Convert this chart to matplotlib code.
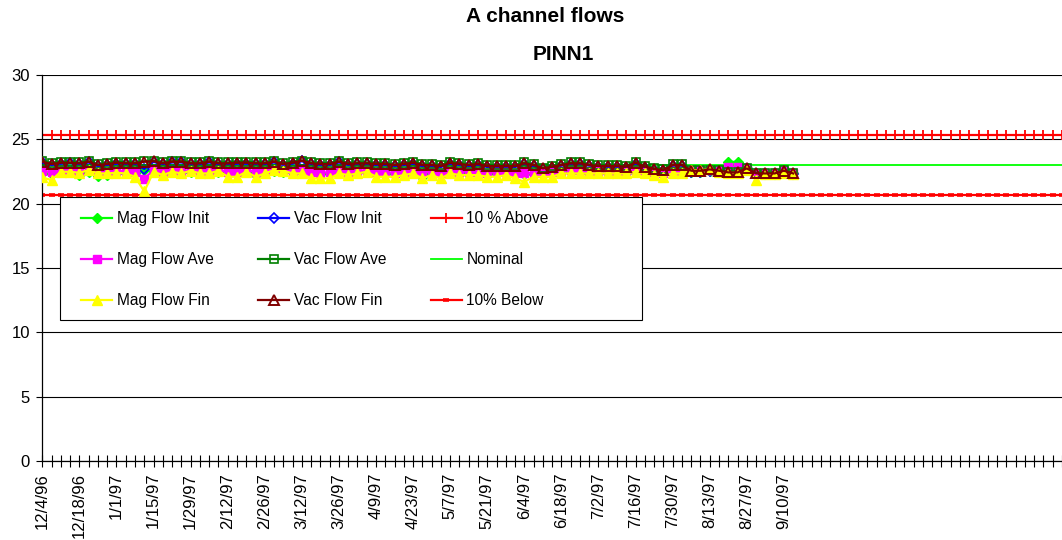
import matplotlib
matplotlib.use("Agg")
import matplotlib.pyplot as plt
from matplotlib.patches import Rectangle
import numpy as np

plt.rcParams['font.family'] = ['Liberation Sans', 'DejaVu Sans']

# Category axis: one category per reading, a date label on every 4th one
label_dates = ["12/4/96", "12/18/96", "1/1/97", "1/15/97", "1/29/97", "2/12/97",
               "2/26/97", "3/12/97", "3/26/97", "4/9/97", "4/23/97", "5/7/97",
               "5/21/97", "6/4/97", "6/18/97", "7/2/97", "7/16/97", "7/30/97",
               "8/13/97", "8/27/97", "9/10/97"]
label_step = 4
n_categories = 111

mag_flow_init = [22.40, 22.30, 22.50, 22.45, 22.20, 22.50, 22.15, 22.20, 22.35, 22.40,
                 22.35, 22.60, 22.50, 22.40, 22.50, 22.45, 22.50, 22.40, 22.45, 22.50,
                 22.40, 22.35, 22.50, 22.20, 22.45, 22.55, 22.50, 22.45, 22.50, 22.35,
                 22.30, 22.35, 22.50, 22.40, 22.45, 22.50, 22.35, 22.35, 22.30, 22.40,
                 22.45, 22.10, 22.40, 22.30, 22.45, 22.40, 22.40, 22.35, 22.30, 22.35,
                 22.35, 22.30, 22.30, 22.30, 22.30, 22.35, 22.45, 22.50, 22.50, 22.45,
                 22.45, 22.40, 22.40, 22.40, 22.55, 22.40, 22.35, 22.30, 22.45, 22.40,
                 22.50, 22.50, 22.55, 22.50, 23.25, 23.25, 22.75, 22.40, 22.35, 22.35,
                 22.50, 22.35]

mag_flow_ave = [22.55, 22.45, 22.60, 22.55, 22.50, 22.60, 22.45, 22.50, 22.55, 22.50,
                22.45, 21.95, 22.60, 22.50, 22.60, 22.55, 22.60, 22.50, 22.55, 22.60,
                22.50, 22.45, 22.60, 22.50, 22.55, 22.65, 22.60, 22.55, 22.60, 22.45,
                22.40, 22.45, 22.60, 22.50, 22.55, 22.60, 22.45, 22.45, 22.40, 22.50,
                22.55, 22.40, 22.50, 22.40, 22.55, 22.50, 22.50, 22.45, 22.40, 22.45,
                22.45, 22.40, 22.35, 22.40, 22.40, 22.45, 22.55, 22.60, 22.60, 22.55,
                22.55, 22.50, 22.50, 22.50, 22.65, 22.50, 22.45, 22.40, 22.55, 22.50,
                22.60, 22.60, 22.65, 22.55, 22.85, 22.85, 22.70, 22.40, 22.40, 22.40,
                22.55, 22.40]

mag_flow_fin = [22.04, 21.83, 22.48, 22.48, 22.40, 22.61, 22.35, 22.35, 22.40, 22.35,
                22.09, 20.95, 22.48, 22.22, 22.48, 22.35, 22.56, 22.35, 22.35, 22.56,
                22.09, 22.09, 22.48, 22.09, 22.35, 22.61, 22.56, 22.35, 22.35, 21.96,
                21.96, 21.96, 22.35, 22.22, 22.35, 22.48, 22.09, 22.09, 22.09, 22.22,
                22.35, 21.96, 22.22, 21.96, 22.35, 22.22, 22.22, 22.22, 22.09, 22.09,
                22.22, 21.96, 21.70, 22.09, 22.09, 22.09, 22.35, 22.35, 22.35, 22.35,
                22.35, 22.35, 22.35, 22.35, 22.48, 22.35, 22.22, 22.09, 22.35, 22.35,
                22.61, 22.61, 22.66, 22.43, 22.40, 22.40, 22.61, 21.83, 22.30, 22.30,
                22.40, 22.30]

vac_flow_init = [23.20, 23.00, 23.10, 23.15, 23.05, 23.20, 22.90, 23.00, 23.10, 23.05,
                 23.05, 22.70, 23.25, 23.05, 23.20, 23.20, 23.05, 23.05, 23.20, 23.05,
                 23.05, 23.10, 23.10, 23.05, 23.05, 23.20, 23.00, 23.10, 23.30, 23.05,
                 23.00, 23.00, 23.20, 23.00, 23.05, 23.05, 23.00, 23.00, 22.90, 23.00,
                 23.10, 22.90, 22.90, 22.85, 23.10, 23.00, 22.90, 23.00, 22.85, 22.85,
                 22.85, 22.85, 23.05, 22.90, 22.70, 22.80, 22.95, 23.05, 23.05, 22.95,
                 22.85, 22.85, 22.85, 22.80, 23.10, 22.80, 22.65, 22.55, 22.95, 22.95,
                 22.50, 22.50, 22.55, 22.45, 22.40, 22.40, 22.70, 22.30, 22.30, 22.30,
                 22.50, 22.30]

vac_flow_ave = [23.30, 23.15, 23.25, 23.20, 23.20, 23.30, 23.05, 23.15, 23.25, 23.20,
                23.20, 23.30, 23.35, 23.20, 23.30, 23.30, 23.20, 23.20, 23.30, 23.20,
                23.20, 23.25, 23.25, 23.20, 23.20, 23.30, 23.15, 23.25, 23.35, 23.20,
                23.15, 23.15, 23.30, 23.15, 23.20, 23.20, 23.15, 23.15, 23.05, 23.15,
                23.25, 23.05, 23.05, 23.00, 23.25, 23.15, 23.05, 23.15, 23.00, 23.00,
                23.00, 23.00, 23.20, 23.05, 22.80, 22.95, 23.05, 23.20, 23.20, 23.05,
                23.00, 23.00, 23.00, 22.95, 23.25, 22.95, 22.75, 22.70, 23.05, 23.05,
                22.60, 22.60, 22.65, 22.60, 22.50, 22.50, 22.80, 22.40, 22.40, 22.40,
                22.60, 22.40]

vac_flow_fin = [23.26, 23.08, 23.18, 23.18, 23.13, 23.26, 23.00, 23.08, 23.18, 23.13,
                23.13, 23.26, 23.30, 23.13, 23.26, 23.26, 23.13, 23.13, 23.26, 23.13,
                23.13, 23.18, 23.18, 23.13, 23.13, 23.26, 23.08, 23.18, 23.34, 23.13,
                23.08, 23.08, 23.26, 23.08, 23.13, 23.13, 23.08, 23.08, 23.00, 23.08,
                23.18, 23.00, 23.00, 22.92, 23.18, 23.08, 23.00, 23.08, 22.92, 22.92,
                22.92, 22.92, 23.13, 23.00, 22.74, 22.87, 23.00, 23.13, 23.13, 23.00,
                22.92, 22.92, 22.92, 22.87, 23.18, 22.87, 22.69, 22.61, 23.00, 23.00,
                22.56, 22.56, 22.66, 22.56, 22.43, 22.43, 22.74, 22.35, 22.35, 22.35,
                22.56, 22.35]

nominal_flow = 23.0
above_limit = 25.3
below_limit = 20.7

W, H = 1062, 540
fig = plt.figure(figsize=(W / 100, H / 100), dpi=100)
ax_left, ax_bottom, ax_top = 42.3, 461.0, 75.0
ax = fig.add_axes([ax_left / W, 1 - ax_bottom / H, (W - ax_left) / W, (ax_bottom - ax_top) / H])

x = np.arange(len(vac_flow_fin))
xc = np.arange(n_categories)

line_w = 1.6
# reference levels
l_above, = ax.plot(xc, [above_limit] * n_categories, color='#FF0000', lw=line_w,
                   marker='+', ms=6.5, mew=1.3, zorder=2, label='10 % Above')
l_nom, = ax.plot(xc, [nominal_flow] * n_categories, color='#00FF00', lw=1.3,
                 zorder=2, label='Nominal')
l_below, = ax.plot(xc, [below_limit] * n_categories, color='#FF0000', lw=line_w,
                   marker='_', ms=4.5, mew=2.6, zorder=2, label='10% Below')

# measured flows
l_mi, = ax.plot(x, mag_flow_init, color='#00FF00', lw=line_w, marker='D', ms=4.8,
                mfc='#00FF00', mec='#00FF00', zorder=3, label='Mag Flow Init')
l_vi, = ax.plot(x, vac_flow_init, color='#0000FF', lw=line_w, marker='D', ms=4.8,
                mfc='none', mec='#0000FF', mew=1.2, zorder=3, label='Vac Flow Init')
l_ma, = ax.plot(x, mag_flow_ave, color='#FF00FF', lw=line_w, marker='s', ms=5.2,
                mfc='#FF00FF', mec='#FF00FF', zorder=4, label='Mag Flow Ave')
l_va, = ax.plot(x, vac_flow_ave, color='#008000', lw=line_w, marker='s', ms=5.2,
                mfc='none', mec='#008000', mew=1.2, zorder=4, label='Vac Flow Ave')
l_mf, = ax.plot(x, mag_flow_fin, color='#FFFF00', lw=line_w, marker='^', ms=7,
                mfc='#FFFF00', mec='#FFFF00', zorder=5, label='Mag Flow Fin')
l_vf, = ax.plot(x, vac_flow_fin, color='#800000', lw=line_w, marker='^', ms=6.5,
                mfc='none', mec='#800000', mew=1.4, zorder=5, label='Vac Flow Fin')

ax.set_xlim(0, (W - ax_left) / ((785.0 - 42.3) / 80))
ax.set_ylim(0, 30)
ax.set_yticks(np.arange(0, 31, 5))
ax.yaxis.grid(True, color='black', lw=0.8)
ax.set_axisbelow(True)

tick_labels = []
for i in xc:
    k = i // label_step
    tick_labels.append(label_dates[k] if i % label_step == 0 and k < len(label_dates) else '')
ax.set_xticks(xc)
ax.set_xticklabels(tick_labels, rotation=90, fontsize=12)
ax.tick_params(axis='x', direction='inout', length=9, width=0.8, pad=4)
ax.tick_params(axis='y', direction='out', length=4, width=0.8, pad=5, labelsize=12)

for side in ('top', 'right'):
    ax.spines[side].set_visible(False)
for side in ('left', 'bottom'):
    ax.spines[side].set_linewidth(0.9)
    ax.spines[side].set_color('black')

fig.text(545 / W, 1 - 17 / H, 'A channel flows', ha='center', va='center',
         fontsize=15, fontweight='bold')
fig.text(563 / W, 1 - 55 / H, 'PINN1', ha='center', va='center',
         fontsize=15, fontweight='bold')

# legend frame and entries
frame = Rectangle((60 / W, 1 - 320 / H), (642 - 60) / W, (320 - 197) / H,
                  transform=fig.transFigure, facecolor='white', edgecolor='black',
                  lw=0.8, zorder=3)
fig.add_artist(frame)
handles = [l_mi, l_ma, l_mf, l_vi, l_va, l_vf, l_above, l_nom, l_below]
fig.legend(handles, [h.get_label() for h in handles], ncol=3, loc='upper left',
           bbox_to_anchor=(81 / W, 1 - 211.5 / H), frameon=False, borderpad=0,
           borderaxespad=0, fontsize=11.2, handlelength=2.0, handletextpad=0.3,
           columnspacing=2.85, labelspacing=1.67, numpoints=1)

fig.savefig('out.png', dpi=100)
